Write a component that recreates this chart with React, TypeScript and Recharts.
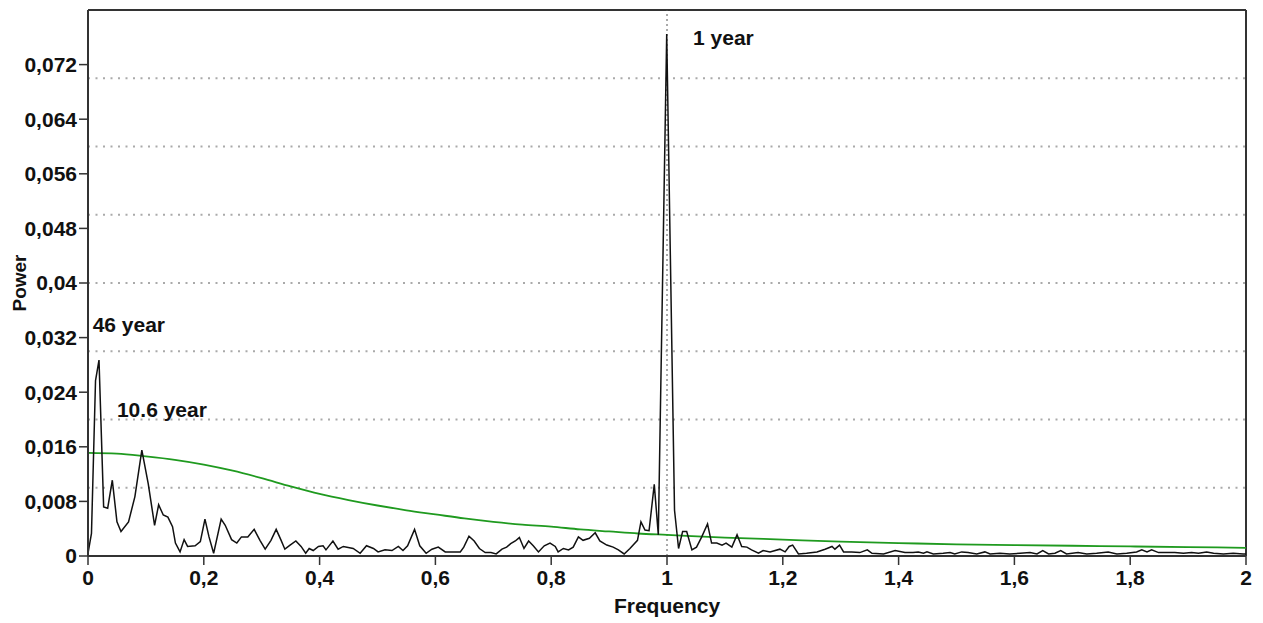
import { LineChart, Line, XAxis, YAxis, CartesianGrid, ReferenceLine, ReferenceDot } from "recharts"

// periodogram
const freq = [
  0, 0.006, 0.013, 0.019, 0.027, 0.034, 0.042, 0.05, 0.057, 0.07, 0.081, 0.093, 0.104, 0.115, 0.122, 0.13,
  0.138, 0.146, 0.151, 0.159, 0.166, 0.172, 0.185, 0.194, 0.202, 0.209, 0.217, 0.23, 0.237, 0.248, 0.257,
  0.265, 0.276, 0.287, 0.297, 0.306, 0.316, 0.325, 0.333, 0.34, 0.349, 0.359, 0.368, 0.376, 0.382, 0.389,
  0.398, 0.406, 0.411, 0.423, 0.432, 0.441, 0.458, 0.47, 0.481, 0.493, 0.501, 0.513, 0.525, 0.536, 0.544,
  0.552, 0.564, 0.573, 0.584, 0.594, 0.605, 0.617, 0.631, 0.643, 0.649, 0.658, 0.667, 0.676, 0.686, 0.696,
  0.705, 0.715, 0.723, 0.73, 0.738, 0.745, 0.753, 0.761, 0.769, 0.778, 0.788, 0.798, 0.807, 0.812, 0.821,
  0.83, 0.838, 0.847, 0.855, 0.866, 0.876, 0.884, 0.896, 0.907, 0.916, 0.926, 0.936, 0.949, 0.955, 0.962,
  0.969, 0.978, 0.985, 0.9995, 1.013, 1.02, 1.027, 1.034, 1.043, 1.051, 1.06, 1.07, 1.077, 1.086, 1.095,
  1.102, 1.112, 1.121, 1.129, 1.138, 1.146, 1.158, 1.166, 1.178, 1.195, 1.204, 1.211, 1.217, 1.227, 1.241,
  1.259, 1.273, 1.285, 1.29, 1.298, 1.305, 1.319, 1.333, 1.346, 1.354, 1.374, 1.394, 1.411, 1.425, 1.434,
  1.443, 1.449, 1.46, 1.477, 1.489, 1.497, 1.509, 1.52, 1.535, 1.549, 1.558, 1.575, 1.592, 1.61, 1.627,
  1.639, 1.649, 1.659, 1.67, 1.68, 1.69, 1.71, 1.725, 1.742, 1.762, 1.777, 1.794, 1.811, 1.82, 1.829,
  1.837, 1.849, 1.863, 1.877, 1.892, 1.906, 1.918, 1.932, 1.944, 1.961, 1.978, 1.995, 2,
]
const power = [
  0.0004, 0.0033, 0.0257, 0.0287, 0.0072, 0.007, 0.0111, 0.005, 0.0036, 0.005, 0.0087, 0.0155, 0.0106, 0.0045, 0.0075, 0.006,
  0.0057, 0.0043, 0.0019, 0.0006, 0.0024, 0.0014, 0.0015, 0.0021, 0.0054, 0.0028, 0.0004, 0.0054, 0.0045, 0.0024, 0.0019,
  0.0028, 0.0028, 0.0039, 0.0023, 0.001, 0.0023, 0.0039, 0.0024, 0.001, 0.0016, 0.0022, 0.0014, 0.0004, 0.0011, 0.0008,
  0.0014, 0.0015, 0.0009, 0.0022, 0.001, 0.0014, 0.0011, 0.0004, 0.0015, 0.0011, 0.0006, 0.0009, 0.0008, 0.0014, 0.0008,
  0.0015, 0.0039, 0.0015, 0.0004, 0.001, 0.0013, 0.0006, 0.0006, 0.0006, 0.0013, 0.0029, 0.0022, 0.0011, 0.0005, 0.0005,
  0.0003, 0.001, 0.0013, 0.0018, 0.0022, 0.0027, 0.0011, 0.0022, 0.0015, 0.0006, 0.0015, 0.0019, 0.0014, 0.0006, 0.0011,
  0.0009, 0.0013, 0.0028, 0.0023, 0.0026, 0.0034, 0.0022, 0.0016, 0.0013, 0.0009, 0.0003, 0.0011, 0.0023, 0.005, 0.0038,
  0.0037, 0.0105, 0.0031, 0.0765, 0.0067, 0.0011, 0.0036, 0.0036, 0.0009, 0.0013, 0.0028, 0.0047, 0.0019, 0.0019, 0.0016,
  0.0019, 0.0013, 0.0031, 0.0014, 0.0013, 0.0009, 0.0004, 0.0008, 0.0006, 0.001, 0.0006, 0.0014, 0.0016, 0.0003, 0.0004,
  0.0006, 0.001, 0.0014, 0.001, 0.0016, 0.0006, 0.0006, 0.0005, 0.0009, 0.0004, 0.0003, 0.0008, 0.0005, 0.0005, 0.0006,
  0.0004, 0.0006, 0.0003, 0.0004, 0.0005, 0.0003, 0.0006, 0.0005, 0.0003, 0.0006, 0.0003, 0.0004, 0.0003, 0.0004, 0.0005,
  0.0003, 0.0008, 0.0003, 0.0004, 0.0008, 0.0003, 0.0005, 0.0003, 0.0004, 0.0006, 0.0003, 0.0004, 0.0006, 0.0009, 0.0006,
  0.0009, 0.0005, 0.0005, 0.0005, 0.0004, 0.0005, 0.0004, 0.0006, 0.0004, 0.0003, 0.0004, 0.0003, 0.0003,
]

// red-noise background (green curve)
const bgFreq = [0, 0.05, 0.1, 0.15, 0.2, 0.25, 0.3, 0.35, 0.4, 0.45, 0.5, 0.55, 0.6, 0.65, 0.7, 0.75, 0.8, 0.85, 0.9, 0.95, 1, 1.1, 1.2, 1.3, 1.4, 1.5, 1.6, 1.7, 1.8, 1.9, 2]
const bgPower = [0.0151, 0.015, 0.0146, 0.0141, 0.0134, 0.0125, 0.0114, 0.0102, 0.0091, 0.0082, 0.0074, 0.0067, 0.0061, 0.0055, 0.005, 0.0046, 0.0043, 0.0039, 0.0036, 0.0033, 0.0031, 0.0027, 0.0024, 0.0021, 0.0019, 0.0017, 0.0016, 0.0015, 0.0014, 0.0013, 0.0012]

const xTicks = [0, 0.2, 0.4, 0.6, 0.8, 1, 1.2, 1.4, 1.6, 1.8, 2]
const yTicks = [0, 0.008, 0.016, 0.024, 0.032, 0.04, 0.048, 0.056, 0.064, 0.072]
const gridLines = [0.01, 0.02, 0.03, 0.04, 0.05, 0.06, 0.07]

const peakLabels = [
  { text: "46 year", f: 0.008, p: 0.0328 },
  { text: "10.6 year", f: 0.05, p: 0.0203 },
  { text: "1 year", f: 1.045, p: 0.0748 },
]

const spectrum = freq.map((f, i) => ({ f, p: power[i] }))
const background = bgFreq.map((f, i) => ({ f, p: bgPower[i] }))

const font = "'Liberation Sans', Arial, sans-serif"
const comma = (v: number) => String(v).replace(".", ",")
const tickStyle = { fontFamily: font, fontSize: 21, fontWeight: 700, fill: "#111" }

export default function App() {
  return (
    <div style={{ position: "absolute", left: 0, top: 0, width: 1263, height: 623, background: "#fff" }}>
      <LineChart width={1263} height={623} margin={{ top: 10, right: 17, left: 0, bottom: 0 }}>
        <CartesianGrid vertical={false} horizontalValues={gridLines} stroke="#aaa" strokeWidth={2} strokeDasharray="2 5.5" />
        <XAxis
          type="number"
          dataKey="f"
          domain={[0, 2]}
          ticks={xTicks}
          tickFormatter={comma}
          height={67}
          tickSize={9}
          tickMargin={5}
          tick={tickStyle}
          axisLine={{ stroke: "#333", strokeWidth: 2 }}
          tickLine={{ stroke: "#333", strokeWidth: 1.5 }}
          label={{
            content: (props: any) => {
              const vb = props.viewBox
              return (
                <text x={vb.x + vb.width / 2} y={613} textAnchor="middle" style={tickStyle}>
                  Frequency
                </text>
              )
            },
          }}
        />
        <YAxis
          type="number"
          domain={[0, 0.08]}
          ticks={yTicks}
          tickFormatter={comma}
          width={88}
          tickSize={9}
          tickMargin={2}
          tick={tickStyle}
          axisLine={{ stroke: "#333", strokeWidth: 2 }}
          tickLine={{ stroke: "#333", strokeWidth: 1.5 }}
          label={{
            content: (props: any) => {
              const vb = props.viewBox
              const cy = vb.y + vb.height / 2
              return (
                <text x={26} y={cy} transform={`rotate(-90 26 ${cy})`} textAnchor="middle" style={{ ...tickStyle, fontSize: 19 }}>
                  Power
                </text>
              )
            },
          }}
        />
        <ReferenceLine y={0.08} stroke="#333" strokeWidth={2} />
        <ReferenceLine x={2} stroke="#333" strokeWidth={2} />
        <ReferenceLine x={1} stroke="#555" strokeDasharray="2 3" />
        <Line data={background} dataKey="p" type="monotone" stroke="#1f9a1f" strokeWidth={1.8} dot={false} isAnimationActive={false} />
        <Line data={spectrum} dataKey="p" type="linear" stroke="#111" strokeWidth={1.5} dot={false} isAnimationActive={false} />
        {peakLabels.map((l) => (
          <ReferenceDot
            key={l.text}
            x={l.f}
            y={l.p}
            r={0}
            stroke="none"
            fill="none"
            label={{
              content: (props: any) => (
                <text x={props.viewBox.x} y={props.viewBox.y} style={tickStyle}>
                  {l.text}
                </text>
              ),
            }}
          />
        ))}
      </LineChart>
    </div>
  )
}
